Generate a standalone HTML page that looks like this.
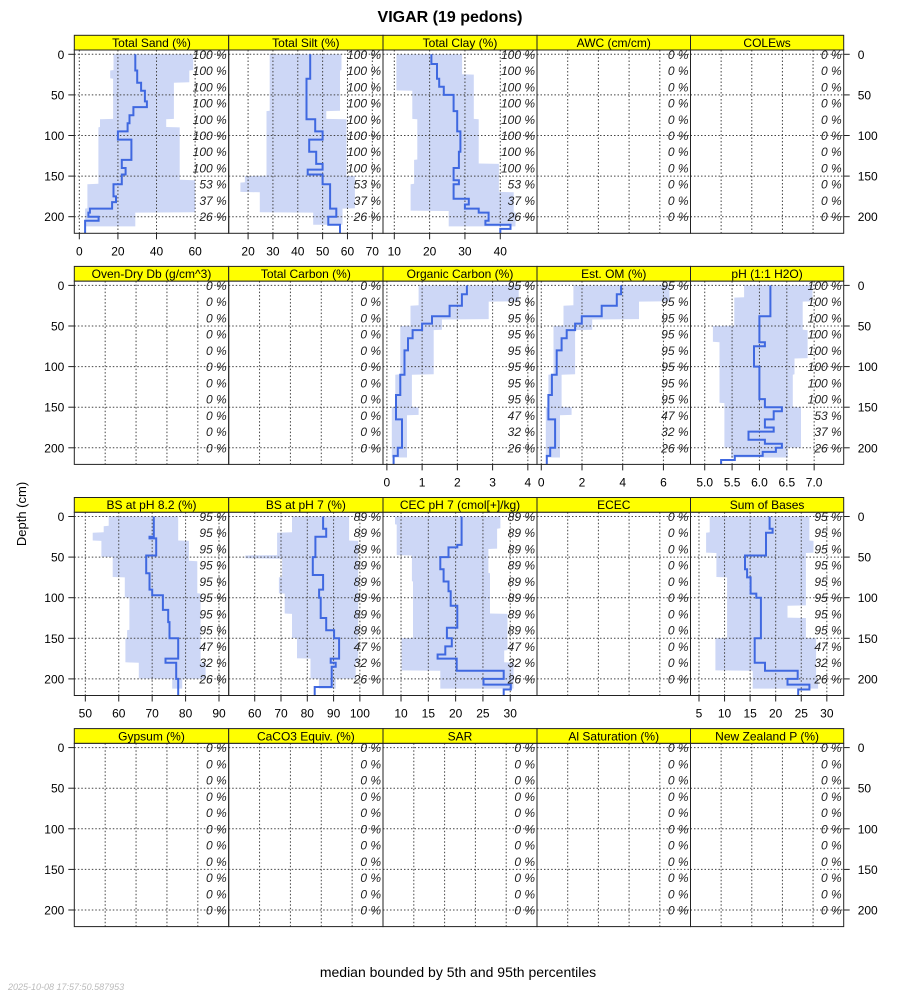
<!DOCTYPE html>
<html><head><meta charset="utf-8">
<style>
html,body{margin:0;padding:0;background:#fff;}
svg{display:block;font-family:"Liberation Sans",sans-serif;}
</style></head>
<body>
<svg id="chart" width="900" height="1000" viewBox="0 0 900 1000" xmlns="http://www.w3.org/2000/svg">
<rect x="0" y="0" width="900" height="1000" fill="#fff"/>
<text x="450" y="22" text-anchor="middle" font-size="16" font-weight="bold">VIGAR (19 pedons)</text>
<text transform="translate(26,514) rotate(-90)" text-anchor="middle" font-size="13">Depth (cm)</text>
<text x="458" y="977" text-anchor="middle" font-size="14">median bounded by 5th and 95th percentiles</text>
<text x="8" y="990" font-size="9" font-style="italic" fill="#bbb">2025-10-08 17:57:50.587953</text>
<g id="panels"></g>
</svg>
<script>
// ---- data (depth tops in cm, values) ----
const sandMedTop=[0,20,35,45,58,65,75,85,95,105,130,140,148,160,175,182,190,195,200,205];
const sandMed=[29,30,32,34,35,28,26,25,20,27,22,24,22,17.7,19,17,5.5,4.7,10,3];
const sandLoTop=[0,20,30,80,90,160,190];
const sandLo=[17.7,16,17.5,10.7,9.9,4.2,3];
const sandHiTop=[0,20,35,80,90,155,195];
const sandHi=[59,57,49,45,52,60,29];

const siltMedTop=[0,30,80,95,105,120,135,142,148,160,190,200,210];
const siltMed=[45,43.5,47,50,44.6,47.4,50,44,50,53,55.5,52.3,57];
const siltLoTop=[0,70,150,158,170,195];
const siltLo=[28.7,27.4,18.7,16.9,24.7,46.2];
const siltHiTop=[0,20,70,80,150,190];
const siltHi=[57.6,57,51.5,59.6,63,58];

const clayMedTop=[0,12,30,40,50,70,95,120,140,155,160,178,185,190,195,205,210,215];
const clayMed=[20.5,22.1,22.7,24,26.8,27.8,28.7,28.3,26.8,28.3,26.8,31.1,30,33.9,36.7,35.8,42.9,40];
const clayLoTop=[0,45,80,130,160,193];
const clayLo=[10.6,15.1,16.5,15.6,14.6,25.4];
const clayHiTop=[0,25,80,135,170,195];
const clayHi=[29.2,32.5,33.9,39.6,43.8,44.3];

const ocMedTop=[0,11,25,38,47,55,65,80,110,135,165,200,210];
const ocMed=[2.27,2.13,1.78,1.28,1.0,0.73,0.6,0.5,0.38,0.26,0.43,0.31,0.19];
const ocLoTop=[0,25,50,110,150];
const ocLo=[0.9,0.67,0.38,0.24,0.14];
const ocHiTop=[0,20,42,55,110,150,160];
const ocHi=[3.74,2.89,1.56,1.33,0.71,0.9,0.57];

const omMedTop=[0,11,25,38,47,55,65,80,110,135,165,200,210];
const omMed=[3.92,3.71,2.97,1.99,1.66,1.25,1.0,0.76,0.52,0.35,0.68,0.44,0.27];
const omLoTop=[0,25,50,110,150];
const omLo=[1.58,1.09,0.6,0.35,0.22];
const omHiTop=[0,20,42,55,110,150,160];
const omHi=[6.3,4.8,2.5,1.66,1.0,1.49,0.92];

const phMedTop=[0,38,70,75,100,140,150,155,165,175,180,190,195,200,205,210,215];
const phMed=[6.2,6.0,6.1,5.9,6.0,6.1,6.41,6.26,6.1,6.26,5.8,6.1,6.41,6.3,6.06,5.55,5.3];
const phLoTop=[0,15,50,70,145,200];
const phLo=[5.72,5.54,5.15,5.27,5.36,5.48];
const phHiTop=[0,20,55,90,110,150,200];
const phHi=[6.97,6.79,6.88,6.64,6.61,6.76,6.52];

const bs82MedTop=[0,25,27,48,70,90,97,115,130,150,175,180,200];
const bs82Med=[70.5,69.2,71.2,68.2,69.2,70,73.2,74.8,75.2,77.8,74,77.2,77.8];
const bs82LoTop=[0,12,20,30,50,75,100,140,150,180,200];
const bs82Lo=[57,55.5,52.2,54.8,58.2,61.8,63.2,62.5,62,66,76];
const bs82HiTop=[0,30,55,95,180,200];
const bs82Hi=[77.8,81,83.5,84.5,86,79];

const bs7MedTop=[0,15,25,50,72,90,100,125,140,150,175,180,185,210];
const bs7Med=[86,87.2,83.1,82.1,86,84.5,85.1,87.2,90.2,92.1,88.9,90.8,89.3,82.8];
const bs7LoTop=[0,20,48,52,75,95,120,150,175,200];
const bs7Lo=[74.2,68.5,56.4,70.4,69.2,71.4,74.2,76.1,81.2,84.4];
const bs7HiTop=[0,30,180,200];
const bs7Hi=[95.9,99.4,98.4,90.8];

const cecMedTop=[0,35,38,50,65,80,92,110,137,150,160,170,175,190,200,207,213];
const cecMed=[21.1,20.3,18.7,17.2,17.8,18.7,19.1,20.3,18.4,19.3,18.1,16.7,20.2,28.8,25.1,30.1,28.8];
const cecLoTop=[0,10,48,80,150,190];
const cecLo=[8.9,9.2,12,12.2,10.1,17.2];
const cecHiTop=[0,15,40,70,120,165,180];
const cecHi=[28.2,27.6,26,26.3,29.5,28.9,30.6];

const sbMedTop=[0,15,20,48,65,75,95,100,150,180,190,200,207,213];
const sbMed=[18.8,19.4,18.1,14,14.4,15.1,16.2,17.1,15.9,17.9,24.3,22.3,26.6,24.4];
const sbLoTop=[0,20,45,75,150,190];
const sbLo=[7.1,6.4,8.4,10.5,8.2,15.5];
const sbHiTop=[0,30,45,110,125,150,200];
const sbHi=[26.6,27.4,25.9,22.3,25.9,27.9,28.3];

const pctA=["100 %","100 %","100 %","100 %","100 %","100 %","100 %","100 %","53 %","37 %","26 %"];
const pctB=["95 %","95 %","95 %","95 %","95 %","95 %","95 %","95 %","47 %","32 %","26 %"];
const pctC=["89 %","89 %","89 %","89 %","89 %","89 %","89 %","89 %","47 %","32 %","26 %"];
const pctZ=["0 %","0 %","0 %","0 %","0 %","0 %","0 %","0 %","0 %","0 %","0 %"];
const depthTicks=[0,50,100,150,200];

// panel definitions: [title, xmin, xmax, ticks, tickLabels, showAxis, pct, med, lo, hi]
const panels=[
 ["Total Sand (%)",-2.6,77.4,[0,20,40,60],null,true,pctA,[sandMedTop,sandMed],[sandLoTop,sandLo],[sandHiTop,sandHi],212,"total-sand"],
 ["Total Silt (%)",12.2,74.3,[20,30,40,50,60,70],null,true,pctA,[siltMedTop,siltMed],[siltLoTop,siltLo],[siltHiTop,siltHi],210,"total-silt"],
 ["Total Clay (%)",6.8,50.4,[10,20,30,40],null,true,pctA,[clayMedTop,clayMed],[clayLoTop,clayLo],[clayHiTop,clayHi],212,"total-clay"],
 ["AWC (cm/cm)",0,1,[0.2,0.4,0.6,0.8],null,false,pctZ,null,null,null,0,"awc"],
 ["COLEws",0,1,[0.2,0.4,0.6,0.8],null,false,pctZ,null,null,null,0,"colews"],
 ["Oven-Dry Db (g/cm^3)",0,1,[0.2,0.4,0.6,0.8],null,false,pctZ,null,null,null,0,"oven-dry-db"],
 ["Total Carbon (%)",0,1,[0.2,0.4,0.6,0.8],null,false,pctZ,null,null,null,0,"total-carbon"],
 ["Organic Carbon (%)",-0.11,4.26,[0,1,2,3,4],null,true,pctB,[ocMedTop,ocMed],[ocLoTop,ocLo],[ocHiTop,ocHi],212,"organic-carbon"],
 ["Est. OM (%)",-0.21,7.33,[0,2,4,6],null,true,pctB,[omMedTop,omMed],[omLoTop,omLo],[omHiTop,omHi],212,"est-om"],
 ["pH (1:1 H2O)",4.74,7.54,[5,5.5,6,6.5,7],["5.0","5.5","6.0","6.5","7.0"],true,pctA,[phMedTop,phMed],[phLoTop,phLo],[phHiTop,phHi],212,"ph"],
 ["BS at pH 8.2 (%)",46.7,92.9,[50,60,70,80,90],null,true,pctB,[bs82MedTop,bs82Med],[bs82LoTop,bs82Lo],[bs82HiTop,bs82Hi],212,"bs-ph82"],
 ["BS at pH 7 (%)",50.1,108.8,[60,70,80,90,100],null,true,pctC,[bs7MedTop,bs7Med],[bs7LoTop,bs7Lo],[bs7HiTop,bs7Hi],212,"bs-ph7"],
 ["CEC pH 7 (cmol[+]/kg)",6.7,34.9,[10,15,20,25,30],null,true,pctC,[cecMedTop,cecMed],[cecLoTop,cecLo],[cecHiTop,cecHi],212,"cec"],
 ["ECEC",0,1,[0.2,0.4,0.6,0.8],null,false,pctZ,null,null,null,0,"ecec"],
 ["Sum of Bases",3.34,33.3,[5,10,15,20,25,30],null,true,pctB,[sbMedTop,sbMed],[sbLoTop,sbLo],[sbHiTop,sbHi],212,"sum-of-bases"],
 ["Gypsum (%)",0,1,[0.2,0.4,0.6,0.8],null,false,pctZ,null,null,null,0,"gypsum"],
 ["CaCO3 Equiv. (%)",0,1,[0.2,0.4,0.6,0.8],null,false,pctZ,null,null,null,0,"caco3"],
 ["SAR",0,1,[0.2,0.4,0.6,0.8],null,false,pctZ,null,null,null,0,"sar"],
 ["Al Saturation (%)",0,1,[0.2,0.4,0.6,0.8],null,false,pctZ,null,null,null,0,"al-saturation"],
 ["New Zealand P (%)",0,1,[0.2,0.4,0.6,0.8],null,false,pctZ,null,null,null,0,"new-zealand-p"]
];

const NS="http://www.w3.org/2000/svg";
const root=document.getElementById("panels");
const colL=[74.3,228.7,383,537,690.5,843.7];
const ROWH=231.1, STRIP_T=35.3, STRIP_B=50, PANEL_B=233.3, D0=54.3, PXCM=0.812, DEND=222;
function mk(tag,attrs,parent){const e=document.createElementNS(NS,tag);for(const k in attrs)e.setAttribute(k,attrs[k]);(parent||root).appendChild(e);return e;}
function stepAt(tops,vals,d){let v=vals[0];for(let i=0;i<tops.length;i++){if(d>=tops[i])v=vals[i];}return v;}

panels.forEach((p,i)=>{
  const r=Math.floor(i/5), c=i%5;
  const L=colL[c], R=colL[c+1], off=r*ROWH;
  const yD=d=>D0+off+PXCM*d;
  const xV=v=>L+(v-p[1])/(p[2]-p[1])*(R-L);
  const g=mk("g",{});
  
  
  const clipId="clip"+i;
  const cp=mk("clipPath",{id:clipId},g);
  mk("rect",{x:L,y:STRIP_B+off,width:R-L,height:PANEL_B-STRIP_B},cp);
  // ribbon
  if(p[8]){
    const lo=p[8],hi=p[9],end=p[10];
    let pts=[];
    for(let d=0;d<=end;d+=0.5) pts.push(xV(stepAt(lo[0],lo[1],d)).toFixed(1)+","+yD(d).toFixed(1));
    for(let d=end;d>=0;d-=0.5) pts.push(xV(stepAt(hi[0],hi[1],d)).toFixed(1)+","+yD(d).toFixed(1));
    const rb=mk("polygon",{points:pts.join(" "),fill:"#cdd7f6",stroke:"none","clip-path":"url(#"+clipId+")"},g);
    
    
  }
  // grid
  p[3].forEach(t=>{
    const gl=mk("line",{x1:xV(t),x2:xV(t),y1:STRIP_B+off,y2:PANEL_B+off,stroke:"#444","stroke-width":1,"stroke-dasharray":"1.5,2"},g);
    
    
  });
  depthTicks.forEach(d=>{
    const hl=mk("line",{x1:L,x2:R,y1:yD(d),y2:yD(d),stroke:"#444","stroke-width":1,"stroke-dasharray":"1.5,2"},g);
    
    
  });
  // median
  if(p[7]){
    const tops=p[7][0],vals=p[7][1];
    let dstr="M"+xV(vals[0]).toFixed(1)+","+yD(tops[0]).toFixed(1);
    for(let k=0;k<tops.length;k++){
      const bot=k+1<tops.length?tops[k+1]:DEND;
      dstr+=" L"+xV(vals[k]).toFixed(1)+","+yD(bot).toFixed(1);
      if(k+1<tops.length) dstr+=" L"+xV(vals[k+1]).toFixed(1)+","+yD(bot).toFixed(1);
    }
    const ml=mk("path",{d:dstr,fill:"none",stroke:"#3f68e0","stroke-width":2,"clip-path":"url(#"+clipId+")"},g);
    
    
  }
  // percent labels
  p[6].forEach((s,k)=>{
    const tx=mk("text",{x:R-2,y:yD(k*20)+4.5,"text-anchor":"end","font-size":12,"font-style":"italic",fill:"#222"},g);
    tx.textContent=s;
    
    
  });
  // frame
  const fr=mk("rect",{x:L,y:STRIP_B+off,width:R-L,height:PANEL_B-STRIP_B,fill:"none",stroke:"#222","stroke-width":1},g);
  
  
  // strip
  const st=mk("rect",{x:L,y:STRIP_T+off,width:R-L,height:STRIP_B-STRIP_T,fill:"#ffff00",stroke:"#222","stroke-width":1},g);
  
  
  const stt=mk("text",{x:(L+R)/2,y:STRIP_B+off-3,"text-anchor":"middle","font-size":12},g);
  stt.textContent=p[0];
  
  
  // x axis
  if(p[5]){
    p[3].forEach((t,k)=>{
      const tk=mk("line",{x1:xV(t),x2:xV(t),y1:PANEL_B+off,y2:PANEL_B+off+6,stroke:"#222"},g);
      
      
      const tl=mk("text",{x:xV(t),y:PANEL_B+off+22,"text-anchor":"middle","font-size":12},g);
      tl.textContent=p[4]?p[4][k]:String(t);
      
      
    });
  }
  // y axes
  if(c===0||c===4){
    depthTicks.forEach(d=>{
      const lx=c===0?L:R, dir=c===0?-1:1;
      const tk=mk("line",{x1:lx,x2:lx+dir*6,y1:yD(d),y2:yD(d),stroke:"#222"},g);
      
      
      const tl=mk("text",{x:c===0?L-10:R+14,y:yD(d)+4.5,"text-anchor":c===0?"end":"start","font-size":12},g);
      tl.textContent=String(d);
      
      
    });
  }
});
</script>
</body></html>
